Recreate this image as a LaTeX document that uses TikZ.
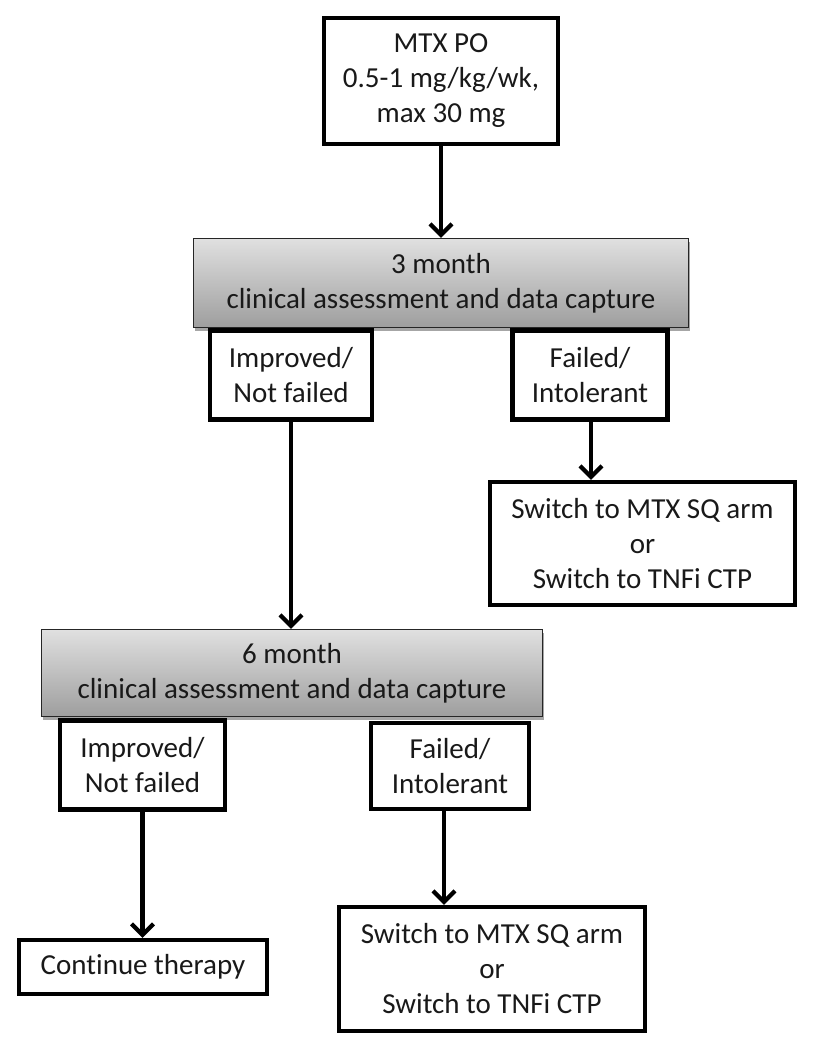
\documentclass[tikz,border=0pt]{standalone}
\usepackage{fontspec}
\setmainfont{Carlito}[Ligatures=NoCommon]
\usetikzlibrary{arrows.meta,shadows}
\definecolor{shadetop}{RGB}{224,224,224}
\definecolor{shadebot}{RGB}{158,158,158}
\tikzset{
  txt/.style={font=\fontsize{29}{35}\selectfont, align=center, text=black!90},
  boxthick/.style={txt, draw=black, line width=4.5pt, fill=white, inner sep=0pt},
  graybox/.style={txt, draw=black!85, line width=1.5pt, inner sep=0pt,
    top color=shadetop, bottom color=shadebot,
    drop shadow={shadow xshift=1.5pt, shadow yshift=-3pt, opacity=0.35, fill=black}},
  arr/.style={line width=4.2pt, -{Straight Barb[length=11pt,width=22pt]}},
}
\begin{document}
\begin{tikzpicture}[x=1pt,y=-1pt]
\useasboundingbox (0,0) rectangle (814,1053);
% gray assessment boxes
\node[graybox, minimum width=495pt, minimum height=89pt] (g3) at (441,283) {3 month\\clinical assessment and data capture};
\node[graybox, minimum width=501pt, minimum height=87pt] (g6) at (292,673) {6 month\\clinical assessment and data capture};
% boxes
\node[boxthick, minimum width=234pt, minimum height=126pt] (top) at (441,81) {MTX PO\\0.5-1 mg/kg/wk,\\max 30 mg};
\node[boxthick, minimum width=162pt, minimum height=89pt] (imp3) at (291,375) {Improved/\\Not failed};
\node[boxthick, minimum width=155pt, minimum height=89pt] (fail3) at (590,375) {Failed/\\Intolerant};
\node[boxthick, minimum width=305pt, minimum height=123pt] (sw1) at (642.5,543.5) {Switch to MTX SQ arm\\or\\Switch to TNFi CTP};
\node[boxthick, minimum width=165pt, minimum height=89pt] (imp6) at (142.5,765) {Improved/\\Not failed};
\node[boxthick, minimum width=158pt, minimum height=86pt] (fail6) at (450,766) {Failed/\\Intolerant};
\node[boxthick, minimum width=248pt, minimum height=54pt] (cont) at (143,967) {Continue therapy};
\node[boxthick, minimum width=306pt, minimum height=124pt] (sw2) at (492,969) {Switch to MTX SQ arm\\or\\Switch to TNFi CTP};
% connectors
\draw[arr] (top.south) -- (g3.north);
\draw[arr] (imp3.south) -- (imp3.south |- g6.north);
\draw[arr] ([xshift=1pt]fail3.south) -- ([xshift=1pt]fail3.south |- sw1.north);
\draw[arr] (imp6.south) -- (imp6.south |- cont.north);
\draw[arr] ([xshift=-6pt]fail6.south) -- ([xshift=-6pt]fail6.south |- sw2.north);
\end{tikzpicture}
\end{document}
